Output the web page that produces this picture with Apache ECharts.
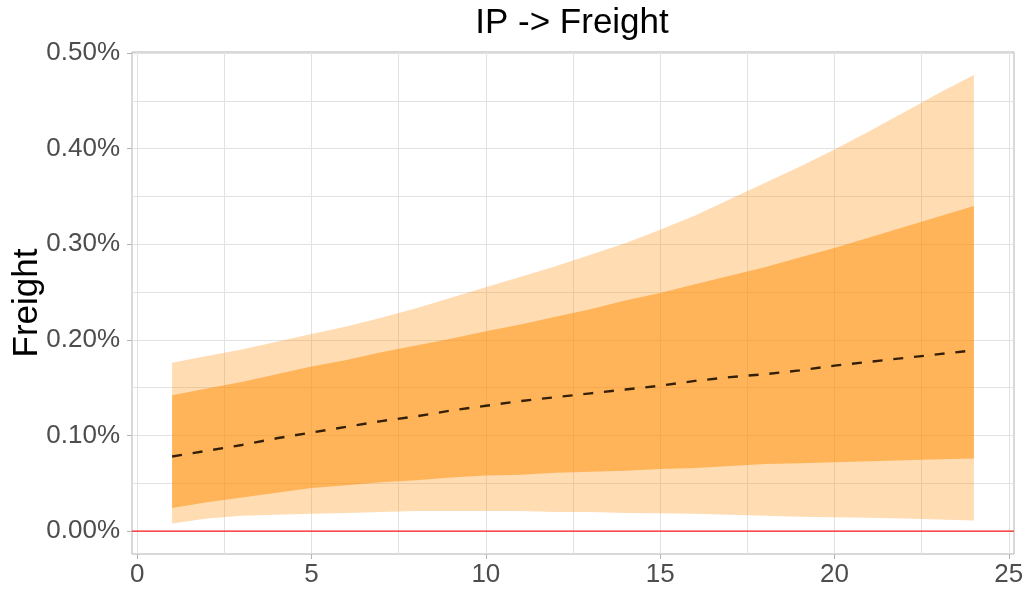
<!DOCTYPE html>
<html>
<head>
<meta charset="utf-8">
<script src="https://cdn.jsdelivr.net/npm/echarts@6/dist/echarts.min.js"></script>
<style>
html,body{margin:0;padding:0;background:#fff;}
#chart{width:1026px;height:595px;}
</style>
</head>
<body>
<div id="chart"></div>
<script>
// ---- data (values in percent) ----
const horizons = [1,2,3,4,5,6,7,8,9,10,11,12,13,14,15,16,17,18,19,20,21,22,23,24];
const outerUpper = [0.176,0.183,0.190,0.198,0.206,0.214,0.223,0.233,0.244,0.255,0.266,0.277,0.289,0.301,0.315,0.330,0.347,0.364,0.381,0.399,0.418,0.438,0.458,0.477];
const innerUpper = [0.142,0.149,0.156,0.164,0.172,0.179,0.187,0.194,0.201,0.209,0.216,0.224,0.232,0.241,0.249,0.258,0.267,0.276,0.286,0.296,0.307,0.318,0.329,0.340];
const median     = [0.078,0.084,0.090,0.097,0.103,0.109,0.115,0.120,0.126,0.131,0.136,0.140,0.144,0.148,0.152,0.157,0.161,0.164,0.168,0.173,0.177,0.181,0.185,0.189];
const innerLower = [0.024,0.030,0.035,0.040,0.045,0.048,0.051,0.053,0.056,0.058,0.059,0.061,0.062,0.063,0.065,0.066,0.068,0.070,0.071,0.072,0.073,0.074,0.075,0.076];
const outerLower = [0.008,0.013,0.016,0.017,0.018,0.019,0.020,0.021,0.021,0.021,0.021,0.020,0.020,0.019,0.0185,0.018,0.017,0.016,0.015,0.0145,0.014,0.013,0.012,0.011];
const xTicks = [0,5,10,15,20,25];
const yTicks = [0,0.1,0.2,0.3,0.4,0.5];
const xRange = [-0.15, 25.15];
const yRange = [-0.024, 0.501];
const zeroLine = 0;
const titleText = 'IP -> Freight';
const yName = 'Freight';

const FONT = '"Liberation Sans", Arial, sans-serif';

function bandSeries(lower, upper, fill) {
  const rows = horizons.map((h, i) => [h, lower[i], upper[i]]);
  return {
    type: 'custom',
    silent: true,
    z: 2,
    data: rows,
    encode: { x: 0, y: [1, 2] },
    renderItem: function (params, api) {
      if (params.dataIndex !== 0) return null;
      const pts = [];
      for (let i = 0; i < rows.length; i++) pts.push(api.coord([rows[i][0], rows[i][2]]));
      for (let i = rows.length - 1; i >= 0; i--) pts.push(api.coord([rows[i][0], rows[i][1]]));
      return { type: 'polygon', shape: { points: pts }, style: { fill: fill, stroke: null } };
    }
  };
}

const chart = echarts.init(document.getElementById('chart'), null, { renderer: 'canvas' });
chart.setOption({
  animation: false,
  backgroundColor: '#ffffff',
  title: {
    text: titleText,
    left: 572,
    top: 6,
    textAlign: 'center',
    padding: 0,
    textStyle: { fontFamily: FONT, fontSize: 35, fontWeight: 'normal', color: '#000' }
  },
  grid: {
    left: 132, right: 12, top: 52, bottom: 41,
    outerBoundsMode: 'none',
    containLabel: false,
    show: true, borderColor: '#b3b3b3', borderWidth: 1, backgroundColor: 'transparent'
  },
  xAxis: {
    type: 'value',
    min: xRange[0], max: xRange[1],
    axisLine: { show: false, onZero: false },
    axisTick: { show: true, length: 5, lineStyle: { color: '#b3b3b3' }, customValues: xTicks },
    axisLabel: { customValues: xTicks, margin: 8, fontFamily: FONT, fontSize: 26, color: '#4d4d4d',
      formatter: v => String(Math.round(v)) },
    splitLine: { show: true, lineStyle: { color: '#e2e2e2', width: 1 } },
    minorTick: { show: false, splitNumber: 2 },
    minorSplitLine: { show: true, lineStyle: { color: '#e2e2e2', width: 1 } }
  },
  yAxis: {
    type: 'value',
    min: yRange[0], max: yRange[1],
    name: yName,
    nameLocation: 'middle',
    nameRotate: 90,
    nameGap: 87,
    nameMoveOverlap: false,
    nameTextStyle: { fontFamily: FONT, fontSize: 35, color: '#000' },
    axisLine: { show: false, onZero: false },
    axisTick: { show: true, length: 5, lineStyle: { color: '#b3b3b3' }, customValues: yTicks },
    axisLabel: { customValues: yTicks, margin: 12, fontFamily: FONT, fontSize: 26, color: '#4d4d4d',
      formatter: v => v.toFixed(2) + '%' },
    splitLine: { show: true, lineStyle: { color: '#e2e2e2', width: 1 } },
    minorTick: { show: false, splitNumber: 2 },
    minorSplitLine: { show: true, lineStyle: { color: '#e2e2e2', width: 1 } }
  },
  series: [
    bandSeries(outerLower, outerUpper, 'rgba(255,140,0,0.3)'),
    bandSeries(innerLower, innerUpper, 'rgba(255,140,0,0.5)'),
    {
      type: 'line',
      z: 4,
      data: [[xRange[0], zeroLine], [xRange[1], zeroLine]],
      showSymbol: false,
      silent: true,
      lineStyle: { color: '#ff1a1a', width: 1.3, type: 'solid' }
    },
    {
      type: 'line',
      z: 5,
      data: horizons.map((h, i) => [h, median[i]]),
      showSymbol: false,
      silent: true,
      lineStyle: { color: 'rgba(30,15,0,0.9)', width: 2.4, type: [10, 10.8] }
    }
  ]
});
</script>
</body>
</html>
